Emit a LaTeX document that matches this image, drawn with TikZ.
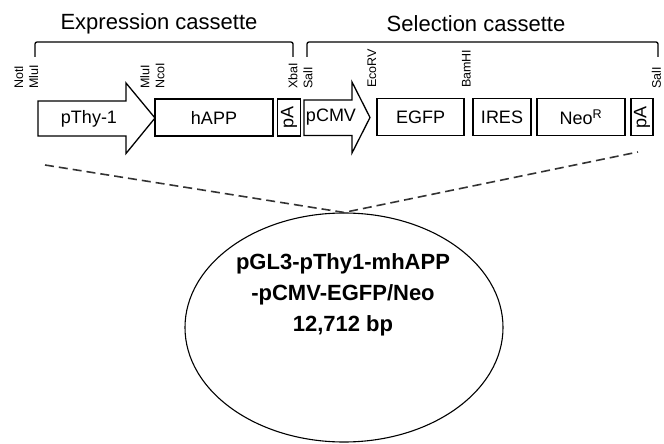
\documentclass[tikz,border=0pt]{standalone}
\usepackage{fontspec}
\setmainfont{Liberation Sans}
\usetikzlibrary{shapes,positioning,calc}

\begin{document}
\begin{tikzpicture}[
    x=1pt, y=-1pt,
    font=\fontsize{18}{21}\selectfont,
    part/.style={draw, line width=1.3pt, minimum height=37pt, inner sep=0pt, fill=white},
    pAbox/.style={part, rotate=90, minimum width=37pt, minimum height=23pt},
    promoter/.style={draw, line width=1.3pt, fill=white, line join=miter},
    site/.style={font=\fontsize{12.5}{15}\selectfont, rotate=90, anchor=west, align=left, inner sep=0pt},
    bracket/.style={line width=1.3pt, rounded corners=2pt},
    title/.style={font=\fontsize{22}{26}\selectfont},
    zoomline/.style={dash pattern=on 9pt off 5pt, line width=1.6pt, draw=black!80},
    plasmid/.style={ellipse, draw, line width=1.1pt, minimum width=318pt, minimum height=229pt},
]
    \useasboundingbox (0,0) rectangle (664,444);

    % cassette titles and brackets
    \node[title] (exprtitle) at (159,24) {Expression cassette};
    \node[title] (seltitle) at (476,24) {Selection cassette};
    \draw[bracket] (35,57) -- (35,42) -- (293,42) -- (293,57);
    \draw[bracket] (307,57) -- (307,42) -- (658,42) -- (658,57);

    % restriction sites
    \node[site] (s1) at (26.5,89) {NotI\\MluI};
    \node[site] (s2) at (152.5,89) {MluI\\NcoI};
    \node[site] (s3) at (300.5,89) {XbaI\\SalI};
    \node[site] (s4) at (372,88) {EcoRV};
    \node[site] (s5) at (466.5,88) {BamHI};
    \node[site] (s6) at (656.5,89) {SalI};

    % promoters
    \draw[promoter] (38,101) -- (126,101) -- (126,83) -- (155,118) -- (126,153.5) -- (126,136) -- (38,136) -- cycle;
    \node (thy) at (89,118.5) {pThy-1};
    \draw[promoter] (304,100) -- (352,100) -- (352,82) -- (370,117.5) -- (352,153) -- (352,135.5) -- (304,135.5) -- cycle;
    \node (cmv) at (331,117.5) {pCMV};

    % coding parts
    \node[part, minimum width=118pt] (happ) at (214,117.5) {hAPP};
    \node[pAbox] (pa1) at (289,117.5) {pA};
    \node[part, minimum width=87pt] (egfp) at (420.5,117.25) {EGFP};
    \node[part, minimum width=58pt] (ires) at (502,117.25) {IRES};
    \node[part, minimum width=88pt] (neo) at (581,117.25) {Neo\textsuperscript{R}};
    \node[pAbox, minimum height=22pt] (pa2) at (642,117.25) {pA};

    % plasmid
    \node[plasmid] (plasmid) at (344,327.5) {};
    \node[font=\bfseries\fontsize{22}{31}\selectfont, align=center] (plasmidname) at (343,295)
        {pGL3-pThy1-mhAPP\\-pCMV-EGFP/Neo\\12,712 bp};

    \coordinate (cutL) at (45,165);
    \coordinate (cutR) at (638,152);
    \draw[zoomline] (cutL) -- (plasmid.north) -- (cutR);
\end{tikzpicture}
\end{document}
